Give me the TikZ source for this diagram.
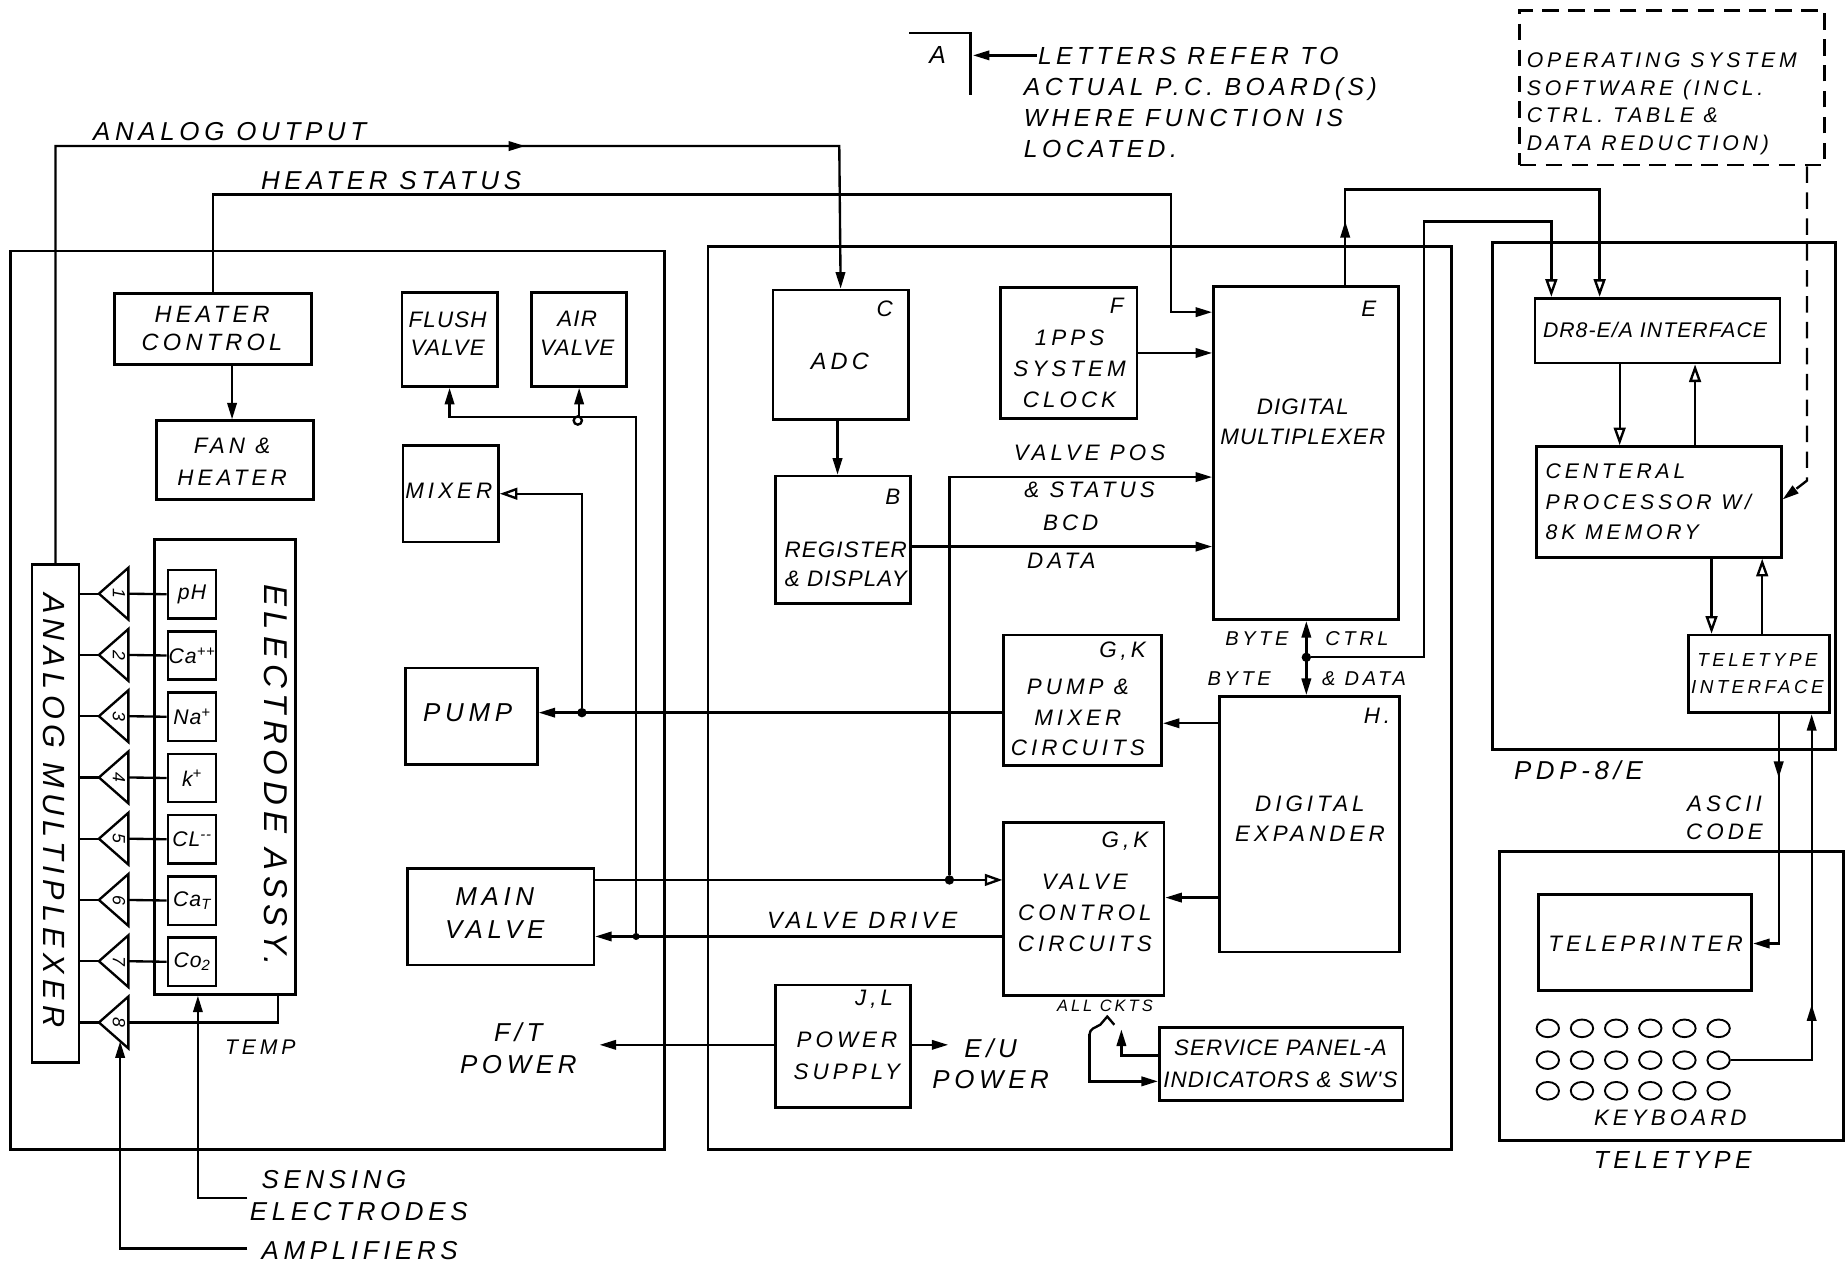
\documentclass[tikz,border=0pt]{standalone}
\usepackage{fontspec}
\newfontfamily\hand{Liberation Sans}[LetterSpace=18]
\newfontfamily\handc{Liberation Sans}[LetterSpace=5]
\usetikzlibrary{arrows.meta,decorations.markings,shapes.geometric}
\begin{document}
\begin{tikzpicture}[x=1pt,y=-1pt,
  >={Triangle[length=14pt,width=8pt]},
  box/.style={draw,line width=2.3pt,anchor=north west,inner sep=0pt},
  ln/.style={line width=2pt},
  arr/.style={ln,->},
  oarr/.style={ln,-{Triangle[open,length=15pt,width=10pt]}},
  midarr/.style={postaction={decorate,decoration={markings,mark=at position #1 with {\arrow{>}}}}},
  dot/.style={circle,fill,inner sep=0pt,minimum size=8pt},
  tx/.style 2 args={inner sep=0pt,align=center,font=\hand\itshape\fontsize{#1}{#2}\selectfont},
  txc/.style 2 args={inner sep=0pt,align=center,font=\handc\itshape\fontsize{#1}{#2}\selectfont},
  key/.style={draw,ellipse,line width=1.6pt,minimum width=19pt,minimum height=15pt,inner sep=0pt}
]
\useasboundingbox[fill=white] (0,0) rectangle (1568,1078);

% ---------- enclosures ----------
\node[box,minimum width=555pt,minimum height=763pt] (leftbox) at (8,212) {};
\node[box,minimum width=631pt,minimum height=767pt] (midbox) at (600,208) {};
\node[box,minimum width=291pt,minimum height=430pt] (pdp) at (1266,205) {};
\node[box,minimum width=292pt,minimum height=245pt] (ttybox) at (1272,722) {};
\node[box,dash pattern=on 14pt off 8pt,minimum width=259pt,minimum height=131pt] (osbox) at (1289,8) {};

% ---------- left unit blocks ----------
\node[box,minimum width=167pt,minimum height=60pt] (hc) at (96,248) {};
\node[box,minimum width=133pt,minimum height=67pt] (fan) at (132,356) {};
\node[box,minimum width=81pt,minimum height=80pt] (flush) at (340,247) {};
\node[box,minimum width=81pt,minimum height=80pt] (air) at (450,247) {};
\node[box,minimum width=81pt,minimum height=82pt] (mixer) at (341,377) {};
\node[box,minimum width=112pt,minimum height=82pt] (pump) at (343,566) {};
\node[box,minimum width=158pt,minimum height=82pt] (mainv) at (345,736) {};
\node[box,minimum width=40pt,minimum height=423pt] (mux) at (26,478) {};
\node[box,minimum width=120pt,minimum height=386pt] (eassy) at (130,457) {};

% electrodes
\foreach \i/\lab in {1/pH,2/Ca\textsuperscript{++},3/Na\textsuperscript{+},4/k\textsuperscript{+},5/CL\textsuperscript{--},6/Ca\textsubscript{T},7/Co\textsubscript{2}}{
  \pgfmathsetmacro\yy{483+52*(\i-1)}
  \node[box,line width=2pt,minimum width=41pt,minimum height=41pt] (el\i) at (141.5,\yy) {};
  \node[txc={18}{20}] (ell\i) at (el\i.center) {\lab};
}
% amplifiers
\foreach \i in {1,...,8}{
  \pgfmathsetmacro\yy{504+52*(\i-1)}
  \draw[ln] (109,\yy-22) -- (84,\yy) -- (109,\yy+22) -- cycle;
  \coordinate (amp\i) at (84,\yy);
  \coordinate (ab\i) at (109,\yy);
  \node[txc={15}{16},rotate=-90] (an\i) at (101,\yy) {\i};
  \draw[ln] (mux.east |- amp\i) -- (amp\i);
}
\foreach \i in {1,...,7}{ \draw[ln] (ab\i) -- (el\i.west); }

% ---------- middle unit blocks ----------
\node[box,minimum width=115pt,minimum height=110pt] (adc) at (655,245) {};
\node[box,minimum width=115pt,minimum height=108pt] (reg) at (657,403) {};
\node[box,minimum width=116pt,minimum height=111pt] (fclk) at (848,243) {};
\node[box,minimum width=157pt,minimum height=283pt] (emux) at (1029,242) {};
\node[box,minimum width=134pt,minimum height=111pt] (pm) at (851,538) {};
\node[box,minimum width=153pt,minimum height=217pt] (hexp) at (1034,590) {};
\node[box,minimum width=136pt,minimum height=147pt] (vc) at (851,697) {};
\node[box,minimum width=115pt,minimum height=104pt] (ps) at (657,835) {};
\node[box,minimum width=207pt,minimum height=62pt] (sp) at (983,871) {};

% ---------- PDP-8/E and teletype ----------
\node[box,minimum width=208pt,minimum height=55pt] (dr8) at (1302,252) {};
\node[box,minimum width=208pt,minimum height=94pt] (cpu) at (1303,378) {};
\node[box,minimum width=120pt,minimum height=66pt] (tti) at (1432,538) {};
\node[box,minimum width=181pt,minimum height=82pt] (tp) at (1305,758) {};
\foreach \r/\yy in {1/873,2/900,3/926}{
  \foreach \c in {1,...,6}{ \node[key] (k\r\c) at ({1314+29*(\c-1)},\yy) {}; }
}

% ---------- texts ----------
\node[tx={22}{26}] (tao) at (195,112) {ANALOG OUTPUT};
\node[tx={22}{26}] (ths) at (332,153) {HEATER STATUS};
\node[tx={20}{24}] (thc) at (180,279) {HEATER\\CONTROL};
\node[tx={19}{27}] (tfan) at (197,392) {FAN \&\\HEATER};
\node[txc={19}{24}] (tfl) at (380,283) {FLUSH\\VALVE};
\node[txc={19}{24}] (tair) at (490,283) {AIR\\VALVE};
\node[tx={19}{24}] (tmix) at (381,417) {MIXER};
\node[tx={22}{26}] (tpump) at (397,605) {PUMP};
\node[tx={22}{28}] (tmv) at (420,775) {MAIN\\VALVE};
\node[tx={22}{27}] (tft) at (440,890) {F/T\\POWER};
\node[tx={18}{22}] (ttemp) at (221,889) {TEMP};
\node[tx={22}{27},align=left,anchor=west] (tsens) at (212,1015) {\hspace*{10pt}SENSING\\ELECTRODES};
\node[tx={22}{26},anchor=west] (tampl) at (222,1062) {AMPLIFIERS};
\node[tx={26}{30},rotate=-90] (tmux) at (46,688) {ANALOG MULTIPLEXER};
\node[tx={28}{30},rotate=-90] (tea) at (234,658) {ELECTRODE ASSY.};

\node[tx={19}{24}] (tc) at (751,262) {C};
\node[tx={20}{24}] (tadc) at (713,307) {ADC};
\node[tx={19}{24}] (tb) at (758,422) {B};
\node[txc={19}{24}] (treg) at (718,479) {REGISTER\\\& DISPLAY};
\node[tx={19}{24}] (tf) at (948,260) {F};
\node[tx={19}{26.5}] (tclk) at (908,313) {1PPS\\SYSTEM\\CLOCK};
\node[tx={19}{24}] (te) at (1162,262) {E};
\node[txc={19}{26}] (tdm) at (1106,358) {DIGITAL\\MULTIPLEXER};
\node[tx={19}{31}] (tvp) at (925,400) {VALVE POS\\\& STATUS};
\node[tx={19}{24}] (tbcd) at (909,444) {BCD};
\node[tx={19}{24}] (tdata) at (901,476) {DATA};
\node[tx={17}{20}] (tby1) at (1067,542) {BYTE};
\node[tx={17}{20}] (tctrl) at (1152,542) {CTRL};
\node[tx={17}{20}] (tby2) at (1052,576) {BYTE};
\node[tx={17}{20}] (tdat2) at (1158,576) {\& DATA};
\node[tx={19}{24}] (tgk1) at (953,553) {G,K};
\node[tx={19}{25.5}] (tpm) at (915,609) {PUMP \&\\MIXER\\CIRCUITS};
\node[tx={19}{24}] (th) at (1169,608) {H.};
\node[tx={19}{25}] (tde) at (1112,695) {DIGITAL\\EXPANDER};
\node[tx={19}{24}] (tgk2) at (955,714) {G,K};
\node[tx={19}{26.5}] (tvc) at (921,775) {VALVE\\CONTROL\\CIRCUITS};
\node[tx={20}{24}] (tvd) at (732,781) {VALVE DRIVE};
\node[tx={19}{24}] (tjl) at (742,848) {J,L};
\node[tx={19}{27}] (tps) at (719,896) {POWER\\SUPPLY};
\node[tx={22}{26}] (teu) at (841,903) {E/U\\POWER};
\node[tx={14}{18}] (tall) at (938,854) {ALL CKTS};
\node[txc={19}{27}] (tsp) at (1087,903) {SERVICE PANEL-A\\INDICATORS \& SW'S};

\node[tx={21}{26.5}] (tA) at (796,47) {A};
\node[tx={21}{26.5},align=left,anchor=west] (tleg) at (869,87) {\hspace*{12pt}LETTERS REFER TO\\ACTUAL P.C. BOARD(S)\\WHERE FUNCTION IS\\LOCATED.};
\node[tx={18}{23.5},align=left,anchor=west] (tos) at (1296,88) {OPERATING SYSTEM\\SOFTWARE (INCL.\\CTRL. TABLE \&\\DATA REDUCTION)};
\node[txc={18}{22}] (tdr8) at (1405,280) {DR8-E/A INTERFACE};
\node[tx={18}{26},align=left,anchor=west] (tcpu) at (1312,426) {CENTERAL\\PROCESSOR W/\\8K MEMORY};
\node[tx={16}{23}] (ttti) at (1492,572) {TELETYPE\\INTERFACE};
\node[tx={22}{26}] (tpdp) at (1340,654) {PDP-8/E};
\node[tx={19}{24}] (tascii) at (1464,694) {ASCII\\CODE};
\node[tx={19}{24}] (ttp) at (1397,801) {TELEPRINTER};
\node[tx={19}{24}] (tkb) at (1418,949) {KEYBOARD};
\node[tx={21}{24}] (ttty) at (1420,985) {TELETYPE};

% ---------- connectors ----------
\draw[arr,midarr=0.66] (mux.north) |- (712.5,124) -- (adc.north);
\draw[arr] (hc.north) |- (994,165) -- (994,265) -- (emux.west |- 994,265);
\draw[arr] (197,0 |- hc.south) -- (197,0 |- fan.north);
\node[dot,minimum size=6pt] (vj) at (540,795) {};
\draw[arr] (vj) |- (flush.south |- 0,354) -- (flush.south);
\draw[arr] (air.south |- 0,354) -- (air.south);
\draw[ln] (490.5,357) circle (3.5pt);
\draw[ln] (ab8) -- (236,868) -- (236,0 |- eassy.south);
\coordinate (sensL) at (210,1017);
\draw[arr] (sensL) -| (168,0 |- eassy.south);
\coordinate (amplL) at (210,1060);
\draw[arr] (amplL) -| (102,884);

\draw[arr] (711,0 |- adc.south) -- (711,0 |- reg.north);
\draw[arr] (fclk.east) -- (emux.west |- fclk.east);
\draw[arr] (reg.east |- 0,464) -- (emux.west |- 0,464);
\node[dot] (vp) at (806,747) {};
\draw[arr] (vp) |- (emux.west |- 0,405);
\draw[oarr] (mainv.east |- 0,747) -- (vc.west |- 0,747);
\draw[arr] (vc.west |- 0,795) -- (mainv.east |- 0,795);
\draw[arr] (pm.west |- 0,605) -- (pump.east |- 0,605);
\node[dot] (pj) at (494,605) {};
\draw[oarr] (pj) |- (mixer.east);
\draw[arr] (hexp.west |- 0,614) -- (pm.east |- 0,614);
\draw[arr] (hexp.west |- 0,762) -- (vc.east |- 0,762);
\coordinate (eu) at (805,887);
\coordinate (ft) at (509,887);
\draw[arr] (ps.east |- 0,887) -- (eu);
\draw[arr] (ps.west |- 0,887) -- (ft);
\draw[arr] (sp.west |- 0,896) -| (952,874);
\draw[arr] (925,878) -- (925,918) -- (sp.west |- 0,918);
\draw[ln] (925,878) to[out=90,in=210] (934,870) -- (940,863) -- (946,870);

\node[dot] (bj) at (1109,558) {};
\draw[ln,<->] (1109,0 |- emux.south) -- (1109,0 |- hexp.north);
\draw[oarr] (bj) -- (1209,558) |- (1317,188) -- (1317,0 |- dr8.north);
\draw[oarr,midarr=0.14] (1142,0 |- emux.north) -- (1142,161) -| (1358,0 |- dr8.north);

\draw[oarr] (1375,0 |- dr8.south) -- (1375,0 |- cpu.north);
\draw[oarr] (1439,0 |- cpu.north) -- (1439,0 |- dr8.south);
\draw[oarr] (1453,0 |- cpu.south) -- (1453,0 |- tti.north);
\draw[oarr] (1496,0 |- tti.north) -- (1496,0 |- cpu.south);
\draw[arr,dash pattern=on 14pt off 8pt] (1534,0 |- osbox.south) -- (1534,408) -- (cpu.east |- 0,424);
\draw[arr,midarr=0.25] (1510,0 |- tti.south) |- (tp.east |- 0,801);
\draw[arr,midarr=0.32] (k26.east) -- (1538,0 |- k26.east) -- (1538,0 |- tti.south);

\draw[ln] (772,28) -- (824,28) -- (824,81);
\coordinate (legarr) at (880,47);
\draw[arr] (legarr) -- (826,47);
\end{tikzpicture}
\end{document}
